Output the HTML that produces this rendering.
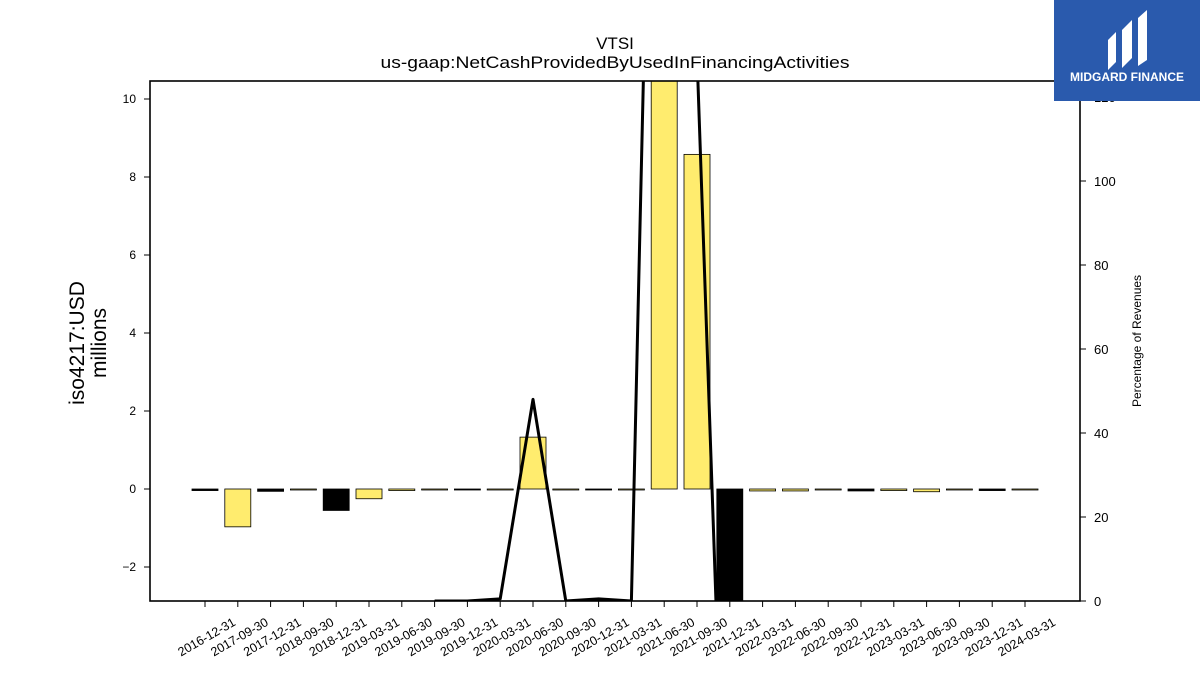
<!DOCTYPE html>
<html><head><meta charset="utf-8"><style>
html,body{margin:0;padding:0;background:#fff;width:1200px;height:675px;overflow:hidden;font-family:"Liberation Sans","DejaVu Sans",sans-serif}
svg{display:block}
</style></head><body>
<svg id="chart" width="1200" height="675" xmlns="http://www.w3.org/2000/svg">
<text x="615" y="49" text-anchor="middle" font-size="17">VTSI</text>
<text x="615" y="68" text-anchor="middle" font-size="17" textLength="469" lengthAdjust="spacingAndGlyphs">us-gaap:NetCashProvidedByUsedInFinancingActivities</text>
<g transform="translate(84,343) rotate(-90)">
<text x="0" y="0" text-anchor="middle" font-size="21">iso4217:USD</text>
<text x="0" y="22" text-anchor="middle" font-size="21">millions</text></g>
<text transform="translate(1141,341) rotate(-90)" text-anchor="middle" font-size="12">Percentage of Revenues</text>
<defs><clipPath id="pc"><rect x="150" y="81" width="930" height="520"/></clipPath></defs>
<g id="bars" clip-path="url(#pc)"></g>
<g id="line" clip-path="url(#pc)"></g>
<g id="axes"></g>
<rect x="150" y="81" width="930" height="520" fill="none" stroke="#000" stroke-width="1.6"/>
<g>
<rect x="1054" y="0" width="146" height="101" fill="#2a5aad"/>
<path d="M1108 70 V40 L1116 32 V62 Z M1122 68 V30 L1132 20 V58 Z M1138 66 V18 L1147 10 V60 Z" fill="#fff"/>
<text x="1127" y="81" text-anchor="middle" font-size="12" font-weight="bold" fill="#fff">MIDGARD FINANCE</text></g>
</svg>
<script>
const categories=["2016-12-31","2017-09-30","2017-12-31","2018-09-30","2018-12-31","2019-03-31","2019-06-30","2019-09-30","2019-12-31","2020-03-31","2020-06-30","2020-09-30","2020-12-31","2021-03-31","2021-06-30","2021-09-30","2021-12-31","2022-03-31","2022-06-30","2022-09-30","2022-12-31","2023-03-31","2023-06-30","2023-09-30","2023-12-31","2024-03-31"];
const values=[-0.04,-0.97,-0.06,-0.01,-0.55,-0.25,-0.04,-0.02,-0.02,-0.01,1.33,-0.005,-0.005,-0.01,12,8.58,-3,-0.05,-0.05,-0.02,-0.05,-0.04,-0.07,-0.02,-0.04,-0.02];
const pctRevenue=[null,null,null,null,null,null,null,0,0,0.5,48,0,0.5,0,340,130,-95,null,null,null,null,null,null,null,null,null];
const leftTicks=[-2,0,2,4,6,8,10];
const rightTicks=[0,20,40,60,80,100,120];
const NS="http://www.w3.org/2000/svg";
const x=i=>205+i*32.8;
const y=v=>489-v*39;
const y2=v=>601-v*4.2;
function mk(tag,attrs,parent,text){const e=document.createElementNS(NS,tag);for(const k in attrs)e.setAttribute(k,attrs[k]);if(text!==undefined)e.textContent=text;document.getElementById(parent).appendChild(e);return e;}
categories.forEach((c,i)=>{
 const v=values[i];const dec=c.endsWith("12-31");
 const b=mk("rect",{x:x(i)-13,y:Math.min(y(v),y(0)),width:26,height:Math.max(Math.abs(y(v)-y(0)),1),fill:dec?"#000":"#ffec6e",stroke:"#000","stroke-width":0.8},"bars");
 
 
 const t=mk("line",{x1:x(i),x2:x(i),y1:601,y2:607,stroke:"#000","stroke-width":1},"axes");
 
 
 const l=mk("text",{transform:`translate(${x(i)+27},617) rotate(-30)`,"text-anchor":"end","font-size":12.5,"dominant-baseline":"hanging"},"axes",c);
 
 
});
let d="";let pen=false;
pctRevenue.forEach((v,i)=>{if(v===null){pen=false;return;}d+=(pen?"L":"M")+x(i)+" "+y2(v)+" ";pen=true;});
const ln=mk("path",{d:d,fill:"none",stroke:"#000","stroke-width":3,"stroke-linejoin":"round"},"line");


leftTicks.forEach(v=>{
 const t=mk("line",{x1:144,x2:150,y1:y(v),y2:y(v),stroke:"#000"},"axes");
 
 
 const l=mk("text",{x:136,y:y(v)+4,"text-anchor":"end","font-size":12},"axes",v<0?"\u2212"+Math.abs(v):String(v));
 
 
});
rightTicks.forEach(v=>{
 const t=mk("line",{x1:1080,x2:1086,y1:y2(v),y2:y2(v),stroke:"#000"},"axes");
 
 
 const l=mk("text",{x:1094,y:y2(v)+5,"font-size":13},"axes",String(v));
 
 
});
</script>
</body></html>
